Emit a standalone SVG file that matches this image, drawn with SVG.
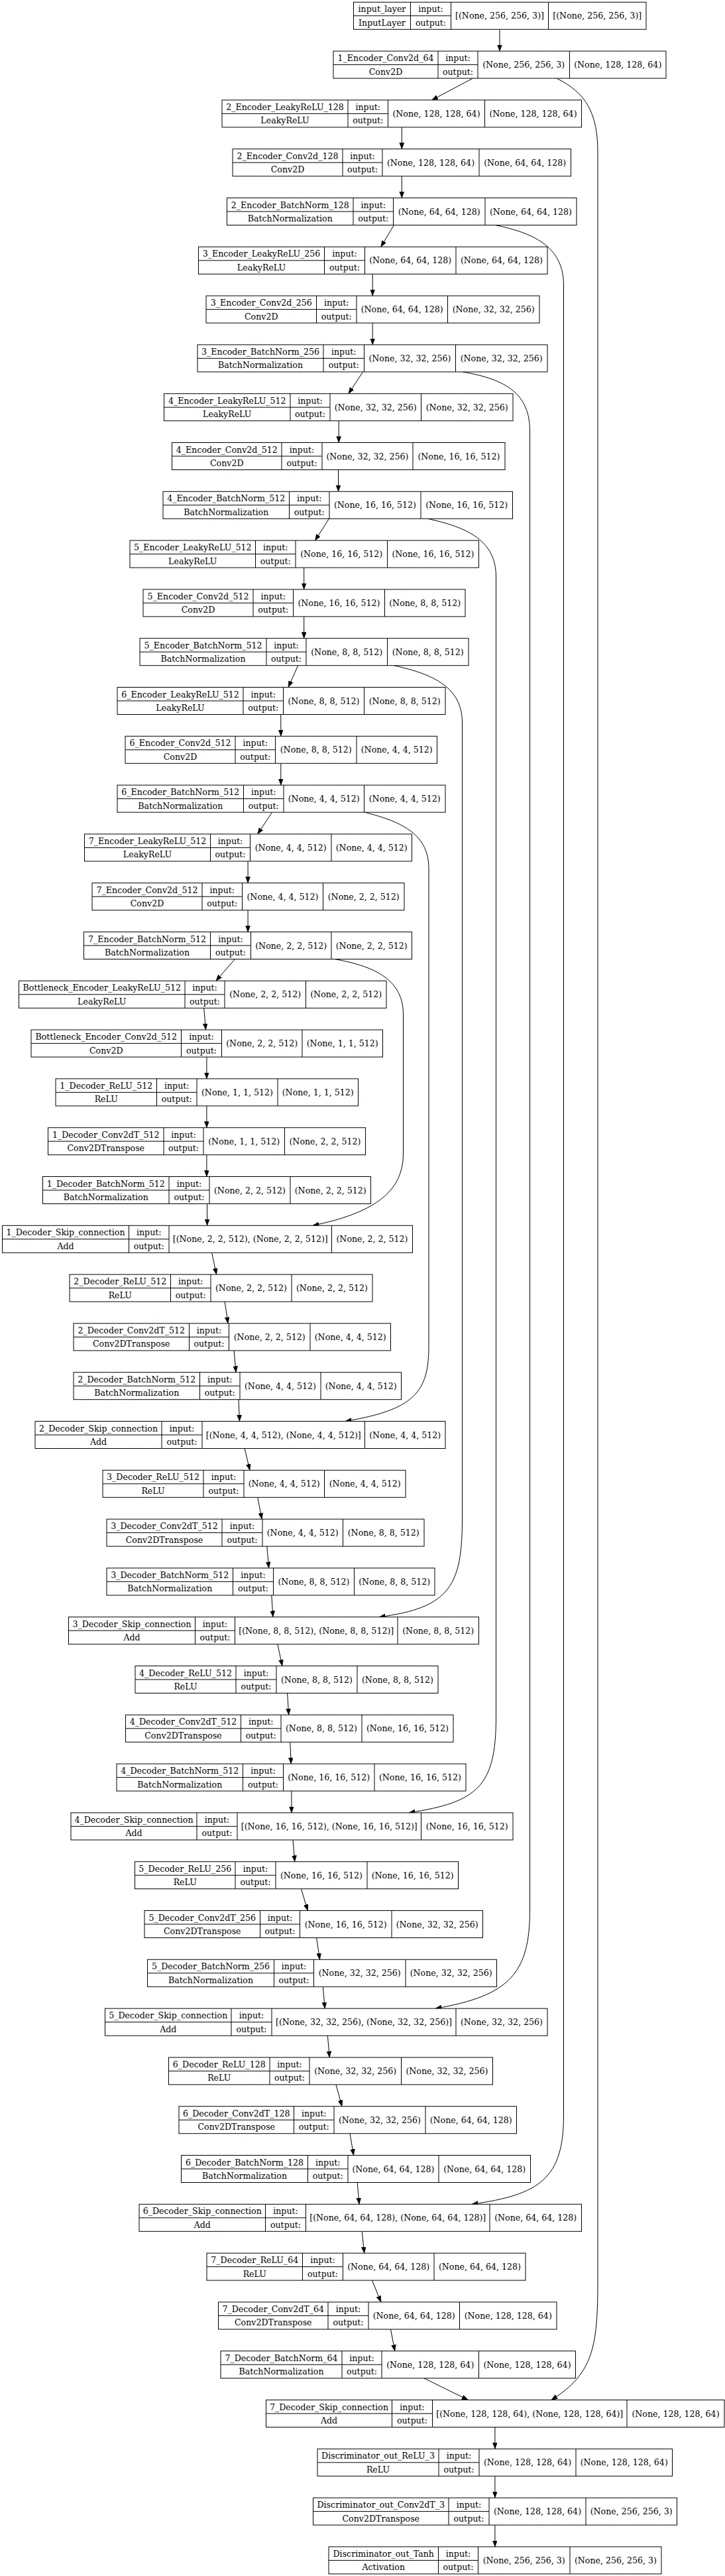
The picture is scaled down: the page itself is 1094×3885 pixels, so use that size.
<svg xmlns="http://www.w3.org/2000/svg" width="1094" height="3885" viewBox="0 0 1094 3885">
<style>
.n rect{fill:#fff;stroke:#000;stroke-width:1}
.n path{stroke:#000;stroke-width:1;fill:none}
.n text{font-family:"DejaVu Serif",serif;font-size:12.6px;text-anchor:middle;fill:#000}
.e path{stroke:#000;stroke-width:1;fill:none;marker-end:url(#ah)}
</style>
<defs>
<marker id="ah" markerUnits="userSpaceOnUse" markerWidth="10" markerHeight="8" refX="9.3" refY="3.5" orient="auto"><path d="M0,0 L9.3,3.5 L0,7 Z" fill="#000" stroke="#000" stroke-width="0.5"/></marker>
</defs>
<rect width="1094" height="3885" fill="#fff"/>
<g id="connectors" class="e">
<path d="M754,44.3L754,77.1"/>
<path d="M713.3,118.1L651.7,150.9"/>
<path d="M606.3,191.9L606.3,224.7"/>
<path d="M606.3,265.7L606.3,298.5"/>
<path d="M594.4,339.5L574.8,372.3"/>
<path d="M562.2,413.3L562.2,446.1"/>
<path d="M562.2,487.1L562.2,519.9"/>
<path d="M547.6,560.9L525.9,593.7"/>
<path d="M511.2,634.7L511.2,667.5"/>
<path d="M510.5,708.5L510.5,741.3"/>
<path d="M496.5,782.3L475.5,815.1"/>
<path d="M458.7,856.1L458.7,888.9"/>
<path d="M458.7,929.9L458.7,962.7"/>
<path d="M449.7,1003.7L435,1036.5"/>
<path d="M423.8,1077.5L423.8,1110.3"/>
<path d="M423.8,1151.3L423.8,1184.1"/>
<path d="M410.5,1225.1L388.8,1257.9"/>
<path d="M374.1,1298.9L374.1,1331.7"/>
<path d="M374.1,1372.7L374.1,1405.5"/>
<path d="M354.5,1446.5L325.9,1479.3"/>
<path d="M307.7,1520.3L310.5,1553.1"/>
<path d="M311.9,1594.1L311.9,1626.9"/>
<path d="M311.9,1667.9L311.9,1700.7"/>
<path d="M311.9,1741.7L311.9,1774.5"/>
<path d="M312.6,1815.5L312.6,1848.3"/>
<path d="M319.6,1889.3L326.6,1922.1"/>
<path d="M339.2,1963.1L344,1995.9"/>
<path d="M353.1,2036.9L356,2069.7"/>
<path d="M360,2110.7L361.5,2143.5"/>
<path d="M369.2,2184.5L376.9,2217.3"/>
<path d="M388.8,2258.3L395.1,2291.1"/>
<path d="M402.8,2332.1L405.6,2364.9"/>
<path d="M409.8,2405.9L411.9,2438.7"/>
<path d="M418.9,2479.7L425.9,2512.5"/>
<path d="M433.6,2553.5L435.7,2586.3"/>
<path d="M437.8,2627.3L439.2,2660.1"/>
<path d="M439.9,2701.1L439.9,2733.9"/>
<path d="M442,2774.9L444.8,2807.7"/>
<path d="M454.5,2848.7L464.3,2881.5"/>
<path d="M477.6,2922.5L482.5,2955.3"/>
<path d="M487.4,2996.3L490.2,3029.1"/>
<path d="M494.4,3070.1L497.2,3102.9"/>
<path d="M507,3143.9L516,3176.7"/>
<path d="M528,3217.7L533.6,3250.5"/>
<path d="M539.2,3291.5L542,3324.3"/>
<path d="M546.2,3365.3L549.7,3398.1"/>
<path d="M561.5,3439.1L574.8,3471.9"/>
<path d="M589.5,3512.9L595.8,3545.7"/>
<path d="M639.9,3586.7L706.3,3619.5"/>
<path d="M746.9,3660.5L746.9,3693.3"/>
<path d="M746.9,3734.3L746.9,3767.1"/>
<path d="M746.9,3808.1L746.9,3840.9"/>
<path d="M840,118.1C884,140 902,170 902,230L902,3440C902,3540 895,3580 832,3619.5"/>
<path d="M747,339.5C810,352 850.5,375 850.5,430L850.5,3190C850.5,3285 815,3310 712,3324.3"/>
<path d="M698,560.9C765,572 799.5,595 799.5,650L799.5,2880C799.5,2975 770,3010 657,3029.1"/>
<path d="M645,782.3C705,795 748.5,815 748.5,870L748.5,2590C748.5,2695 720,2718 617,2733.9"/>
<path d="M594.5,1003.7C655,1017 697.5,1037 697.5,1090L697.5,2290C697.5,2390 680,2425 572,2438.7"/>
<path d="M550.3,1225.1C610,1240 647,1260 647,1310L647,2030C647,2100 625,2126 521,2143.5"/>
<path d="M505,1446.5C570,1458 608.5,1480 608.5,1530L608.5,1740C608.5,1800 560,1830 472,1848.3"/>
</g>
<g id="n0" class="n" transform="translate(0,3.3)"><rect x="533.5" y="0" width="441.5" height="41"/><path d="M619.5,0V41M680.5,0V41M827.5,0V41M533.5,20.5H680.5"/><text x="576.5" y="15">input_layer</text><text x="576.5" y="35.5">InputLayer</text><text x="650" y="15">input:</text><text x="650" y="35.5">output:</text><text x="754" y="25">[(None, 256, 256, 3)]</text><text x="901.25" y="25">[(None, 256, 256, 3)]</text></g>
<g id="n1" class="n" transform="translate(0,77.1)"><rect x="503" y="0" width="502" height="41"/><path d="M661,0V41M721,0V41M859.5,0V41M503,20.5H721"/><text x="582" y="15">1_Encoder_Conv2d_64</text><text x="582" y="35.5">Conv2D</text><text x="691" y="15">input:</text><text x="691" y="35.5">output:</text><text x="790.25" y="25">(None, 256, 256, 3)</text><text x="932.25" y="25">(None, 128, 128, 64)</text></g>
<g id="n2" class="n" transform="translate(0,150.9)"><rect x="335" y="0" width="542.5" height="41"/><path d="M525,0V41M585.5,0V41M731.5,0V41M335,20.5H585.5"/><text x="430" y="15">2_Encoder_LeakyReLU_128</text><text x="430" y="35.5">LeakyReLU</text><text x="555.25" y="15">input:</text><text x="555.25" y="35.5">output:</text><text x="658.5" y="25">(None, 128, 128, 64)</text><text x="804.5" y="25">(None, 128, 128, 64)</text></g>
<g id="n3" class="n" transform="translate(0,224.7)"><rect x="351" y="0" width="510.5" height="41"/><path d="M517,0V41M577,0V41M723,0V41M351,20.5H577"/><text x="434" y="15">2_Encoder_Conv2d_128</text><text x="434" y="35.5">Conv2D</text><text x="547" y="15">input:</text><text x="547" y="35.5">output:</text><text x="650" y="25">(None, 128, 128, 64)</text><text x="792.25" y="25">(None, 64, 64, 128)</text></g>
<g id="n4" class="n" transform="translate(0,298.5)"><rect x="342.5" y="0" width="527.5" height="41"/><path d="M533,0V41M593.5,0V41M732,0V41M342.5,20.5H593.5"/><text x="437.75" y="15">2_Encoder_BatchNorm_128</text><text x="437.75" y="35.5">BatchNormalization</text><text x="563.25" y="15">input:</text><text x="563.25" y="35.5">output:</text><text x="662.75" y="25">(None, 64, 64, 128)</text><text x="801" y="25">(None, 64, 64, 128)</text></g>
<g id="n5" class="n" transform="translate(0,372.3)"><rect x="299.5" y="0" width="526.5" height="41"/><path d="M489.5,0V41M550.5,0V41M688,0V41M299.5,20.5H550.5"/><text x="394.5" y="15">3_Encoder_LeakyReLU_256</text><text x="394.5" y="35.5">LeakyReLU</text><text x="520" y="15">input:</text><text x="520" y="35.5">output:</text><text x="619.25" y="25">(None, 64, 64, 128)</text><text x="757" y="25">(None, 64, 64, 128)</text></g>
<g id="n6" class="n" transform="translate(0,446.1)"><rect x="311" y="0" width="503" height="41"/><path d="M477.5,0V41M538,0V41M675.5,0V41M311,20.5H538"/><text x="394.25" y="15">3_Encoder_Conv2d_256</text><text x="394.25" y="35.5">Conv2D</text><text x="507.75" y="15">input:</text><text x="507.75" y="35.5">output:</text><text x="606.75" y="25">(None, 64, 64, 128)</text><text x="744.75" y="25">(None, 32, 32, 256)</text></g>
<g id="n7" class="n" transform="translate(0,519.9)"><rect x="298" y="0" width="528" height="41"/><path d="M488,0V41M549.5,0V41M687.5,0V41M298,20.5H549.5"/><text x="393" y="15">3_Encoder_BatchNorm_256</text><text x="393" y="35.5">BatchNormalization</text><text x="518.75" y="15">input:</text><text x="518.75" y="35.5">output:</text><text x="618.5" y="25">(None, 32, 32, 256)</text><text x="756.75" y="25">(None, 32, 32, 256)</text></g>
<g id="n8" class="n" transform="translate(0,593.7)"><rect x="247.5" y="0" width="526.5" height="41"/><path d="M438,0V41M498,0V41M635.5,0V41M247.5,20.5H498"/><text x="342.75" y="15">4_Encoder_LeakyReLU_512</text><text x="342.75" y="35.5">LeakyReLU</text><text x="468" y="15">input:</text><text x="468" y="35.5">output:</text><text x="566.75" y="25">(None, 32, 32, 256)</text><text x="704.75" y="25">(None, 32, 32, 256)</text></g>
<g id="n9" class="n" transform="translate(0,667.5)"><rect x="259.5" y="0" width="502.5" height="41"/><path d="M425,0V41M486,0V41M623,0V41M259.5,20.5H486"/><text x="342.25" y="15">4_Encoder_Conv2d_512</text><text x="342.25" y="35.5">Conv2D</text><text x="455.5" y="15">input:</text><text x="455.5" y="35.5">output:</text><text x="554.5" y="25">(None, 32, 32, 256)</text><text x="692.5" y="25">(None, 16, 16, 512)</text></g>
<g id="n10" class="n" transform="translate(0,741.3)"><rect x="246" y="0" width="527.5" height="41"/><path d="M436.5,0V41M497,0V41M635,0V41M246,20.5H497"/><text x="341.25" y="15">4_Encoder_BatchNorm_512</text><text x="341.25" y="35.5">BatchNormalization</text><text x="466.75" y="15">input:</text><text x="466.75" y="35.5">output:</text><text x="566" y="25">(None, 16, 16, 512)</text><text x="704.25" y="25">(None, 16, 16, 512)</text></g>
<g id="n11" class="n" transform="translate(0,815.1)"><rect x="196" y="0" width="526.5" height="41"/><path d="M385.5,0V41M446,0V41M584.5,0V41M196,20.5H446"/><text x="290.75" y="15">5_Encoder_LeakyReLU_512</text><text x="290.75" y="35.5">LeakyReLU</text><text x="415.75" y="15">input:</text><text x="415.75" y="35.5">output:</text><text x="515.25" y="25">(None, 16, 16, 512)</text><text x="653.5" y="25">(None, 16, 16, 512)</text></g>
<g id="n12" class="n" transform="translate(0,888.9)"><rect x="216" y="0" width="486" height="41"/><path d="M382,0V41M442.5,0V41M580.5,0V41M216,20.5H442.5"/><text x="299" y="15">5_Encoder_Conv2d_512</text><text x="299" y="35.5">Conv2D</text><text x="412.25" y="15">input:</text><text x="412.25" y="35.5">output:</text><text x="511.5" y="25">(None, 16, 16, 512)</text><text x="641.25" y="25">(None, 8, 8, 512)</text></g>
<g id="n13" class="n" transform="translate(0,962.7)"><rect x="211" y="0" width="496" height="41"/><path d="M402,0V41M462,0V41M584.5,0V41M211,20.5H462"/><text x="306.5" y="15">5_Encoder_BatchNorm_512</text><text x="306.5" y="35.5">BatchNormalization</text><text x="432" y="15">input:</text><text x="432" y="35.5">output:</text><text x="523.25" y="25">(None, 8, 8, 512)</text><text x="645.75" y="25">(None, 8, 8, 512)</text></g>
<g id="n14" class="n" transform="translate(0,1036.5)"><rect x="177" y="0" width="495" height="41"/><path d="M367,0V41M427.5,0V41M549.5,0V41M177,20.5H427.5"/><text x="272" y="15">6_Encoder_LeakyReLU_512</text><text x="272" y="35.5">LeakyReLU</text><text x="397.25" y="15">input:</text><text x="397.25" y="35.5">output:</text><text x="488.5" y="25">(None, 8, 8, 512)</text><text x="610.75" y="25">(None, 8, 8, 512)</text></g>
<g id="n15" class="n" transform="translate(0,1110.3)"><rect x="189" y="0" width="470.5" height="41"/><path d="M355,0V41M415.5,0V41M538,0V41M189,20.5H415.5"/><text x="272" y="15">6_Encoder_Conv2d_512</text><text x="272" y="35.5">Conv2D</text><text x="385.25" y="15">input:</text><text x="385.25" y="35.5">output:</text><text x="476.75" y="25">(None, 8, 8, 512)</text><text x="598.75" y="25">(None, 4, 4, 512)</text></g>
<g id="n16" class="n" transform="translate(0,1184.1)"><rect x="177" y="0" width="495" height="41"/><path d="M367.5,0V41M428,0V41M549.5,0V41M177,20.5H428"/><text x="272.25" y="15">6_Encoder_BatchNorm_512</text><text x="272.25" y="35.5">BatchNormalization</text><text x="397.75" y="15">input:</text><text x="397.75" y="35.5">output:</text><text x="488.75" y="25">(None, 4, 4, 512)</text><text x="610.75" y="25">(None, 4, 4, 512)</text></g>
<g id="n17" class="n" transform="translate(0,1257.9)"><rect x="127.5" y="0" width="494" height="41"/><path d="M317.5,0V41M377.5,0V41M500,0V41M127.5,20.5H377.5"/><text x="222.5" y="15">7_Encoder_LeakyReLU_512</text><text x="222.5" y="35.5">LeakyReLU</text><text x="347.5" y="15">input:</text><text x="347.5" y="35.5">output:</text><text x="438.75" y="25">(None, 4, 4, 512)</text><text x="560.75" y="25">(None, 4, 4, 512)</text></g>
<g id="n18" class="n" transform="translate(0,1331.7)"><rect x="139" y="0" width="471" height="41"/><path d="M305,0V41M365.5,0V41M487.5,0V41M139,20.5H365.5"/><text x="222" y="15">7_Encoder_Conv2d_512</text><text x="222" y="35.5">Conv2D</text><text x="335.25" y="15">input:</text><text x="335.25" y="35.5">output:</text><text x="426.5" y="25">(None, 4, 4, 512)</text><text x="548.75" y="25">(None, 2, 2, 512)</text></g>
<g id="n19" class="n" transform="translate(0,1405.5)"><rect x="126.5" y="0" width="495" height="41"/><path d="M317.5,0V41M378.5,0V41M500,0V41M126.5,20.5H378.5"/><text x="222" y="15">7_Encoder_BatchNorm_512</text><text x="222" y="35.5">BatchNormalization</text><text x="348" y="15">input:</text><text x="348" y="35.5">output:</text><text x="439.25" y="25">(None, 2, 2, 512)</text><text x="560.75" y="25">(None, 2, 2, 512)</text></g>
<g id="n20" class="n" transform="translate(0,1479.3)"><rect x="28.5" y="0" width="554.5" height="41"/><path d="M279,0V41M339,0V41M461.5,0V41M28.5,20.5H339"/><text x="153.75" y="15">Bottleneck_Encoder_LeakyReLU_512</text><text x="153.75" y="35.5">LeakyReLU</text><text x="309" y="15">input:</text><text x="309" y="35.5">output:</text><text x="400.25" y="25">(None, 2, 2, 512)</text><text x="522.25" y="25">(None, 2, 2, 512)</text></g>
<g id="n21" class="n" transform="translate(0,1553.1)"><rect x="47" y="0" width="530.5" height="41"/><path d="M273.5,0V41M334.5,0V41M456,0V41M47,20.5H334.5"/><text x="160.25" y="15">Bottleneck_Encoder_Conv2d_512</text><text x="160.25" y="35.5">Conv2D</text><text x="304" y="15">input:</text><text x="304" y="35.5">output:</text><text x="395.25" y="25">(None, 2, 2, 512)</text><text x="516.75" y="25">(None, 1, 1, 512)</text></g>
<g id="n22" class="n" transform="translate(0,1626.9)"><rect x="84" y="0" width="456.5" height="41"/><path d="M236.5,0V41M297,0V41M419,0V41M84,20.5H297"/><text x="160.25" y="15">1_Decoder_ReLU_512</text><text x="160.25" y="35.5">ReLU</text><text x="266.75" y="15">input:</text><text x="266.75" y="35.5">output:</text><text x="358" y="25">(None, 1, 1, 512)</text><text x="479.75" y="25">(None, 1, 1, 512)</text></g>
<g id="n23" class="n" transform="translate(0,1700.7)"><rect x="72.5" y="0" width="479" height="41"/><path d="M247,0V41M307,0V41M429.5,0V41M72.5,20.5H307"/><text x="159.75" y="15">1_Decoder_Conv2dT_512</text><text x="159.75" y="35.5">Conv2DTranspose</text><text x="277" y="15">input:</text><text x="277" y="35.5">output:</text><text x="368.25" y="25">(None, 1, 1, 512)</text><text x="490.5" y="25">(None, 2, 2, 512)</text></g>
<g id="n24" class="n" transform="translate(0,1774.5)"><rect x="64.5" y="0" width="495" height="41"/><path d="M255,0V41M316,0V41M438,0V41M64.5,20.5H316"/><text x="159.75" y="15">1_Decoder_BatchNorm_512</text><text x="159.75" y="35.5">BatchNormalization</text><text x="285.5" y="15">input:</text><text x="285.5" y="35.5">output:</text><text x="377" y="25">(None, 2, 2, 512)</text><text x="498.75" y="25">(None, 2, 2, 512)</text></g>
<g id="n25" class="n" transform="translate(0,1848.3)"><rect x="3.5" y="0" width="619" height="41"/><path d="M194.5,0V41M255,0V41M500.5,0V41M3.5,20.5H255"/><text x="99" y="15">1_Decoder_Skip_connection</text><text x="99" y="35.5">Add</text><text x="224.75" y="15">input:</text><text x="224.75" y="35.5">output:</text><text x="377.75" y="25">[(None, 2, 2, 512), (None, 2, 2, 512)]</text><text x="561.5" y="25">(None, 2, 2, 512)</text></g>
<g id="n26" class="n" transform="translate(0,1922.1)"><rect x="105" y="0" width="457" height="41"/><path d="M257.5,0V41M318,0V41M440,0V41M105,20.5H318"/><text x="181.25" y="15">2_Decoder_ReLU_512</text><text x="181.25" y="35.5">ReLU</text><text x="287.75" y="15">input:</text><text x="287.75" y="35.5">output:</text><text x="379" y="25">(None, 2, 2, 512)</text><text x="501" y="25">(None, 2, 2, 512)</text></g>
<g id="n27" class="n" transform="translate(0,1995.9)"><rect x="111" y="0" width="478.5" height="41"/><path d="M285.5,0V41M345.5,0V41M468,0V41M111,20.5H345.5"/><text x="198.25" y="15">2_Decoder_Conv2dT_512</text><text x="198.25" y="35.5">Conv2DTranspose</text><text x="315.5" y="15">input:</text><text x="315.5" y="35.5">output:</text><text x="406.75" y="25">(None, 2, 2, 512)</text><text x="528.75" y="25">(None, 4, 4, 512)</text></g>
<g id="n28" class="n" transform="translate(0,2069.7)"><rect x="111" y="0" width="494.5" height="41"/><path d="M301.5,0V41M362,0V41M484,0V41M111,20.5H362"/><text x="206.25" y="15">2_Decoder_BatchNorm_512</text><text x="206.25" y="35.5">BatchNormalization</text><text x="331.75" y="15">input:</text><text x="331.75" y="35.5">output:</text><text x="423" y="25">(None, 4, 4, 512)</text><text x="544.75" y="25">(None, 4, 4, 512)</text></g>
<g id="n29" class="n" transform="translate(0,2143.5)"><rect x="53" y="0" width="619" height="41"/><path d="M244,0V41M305,0V41M550.5,0V41M53,20.5H305"/><text x="148.5" y="15">2_Decoder_Skip_connection</text><text x="148.5" y="35.5">Add</text><text x="274.5" y="15">input:</text><text x="274.5" y="35.5">output:</text><text x="427.75" y="25">[(None, 4, 4, 512), (None, 4, 4, 512)]</text><text x="611.25" y="25">(None, 4, 4, 512)</text></g>
<g id="n30" class="n" transform="translate(0,2217.3)"><rect x="155" y="0" width="457" height="41"/><path d="M307,0V41M368,0V41M489.5,0V41M155,20.5H368"/><text x="231" y="15">3_Decoder_ReLU_512</text><text x="231" y="35.5">ReLU</text><text x="337.5" y="15">input:</text><text x="337.5" y="35.5">output:</text><text x="428.75" y="25">(None, 4, 4, 512)</text><text x="550.75" y="25">(None, 4, 4, 512)</text></g>
<g id="n31" class="n" transform="translate(0,2291.1)"><rect x="161" y="0" width="479" height="41"/><path d="M335,0V41M396,0V41M517.5,0V41M161,20.5H396"/><text x="248" y="15">3_Decoder_Conv2dT_512</text><text x="248" y="35.5">Conv2DTranspose</text><text x="365.5" y="15">input:</text><text x="365.5" y="35.5">output:</text><text x="456.75" y="25">(None, 4, 4, 512)</text><text x="578.75" y="25">(None, 8, 8, 512)</text></g>
<g id="n32" class="n" transform="translate(0,2364.9)"><rect x="161" y="0" width="495" height="41"/><path d="M351.5,0V41M412.5,0V41M534.5,0V41M161,20.5H412.5"/><text x="256.25" y="15">3_Decoder_BatchNorm_512</text><text x="256.25" y="35.5">BatchNormalization</text><text x="382" y="15">input:</text><text x="382" y="35.5">output:</text><text x="473.5" y="25">(None, 8, 8, 512)</text><text x="595.25" y="25">(None, 8, 8, 512)</text></g>
<g id="n33" class="n" transform="translate(0,2438.7)"><rect x="103.5" y="0" width="619" height="41"/><path d="M294.5,0V41M354.5,0V41M600,0V41M103.5,20.5H354.5"/><text x="199" y="15">3_Decoder_Skip_connection</text><text x="199" y="35.5">Add</text><text x="324.5" y="15">input:</text><text x="324.5" y="35.5">output:</text><text x="477.25" y="25">[(None, 8, 8, 512), (None, 8, 8, 512)]</text><text x="661.25" y="25">(None, 8, 8, 512)</text></g>
<g id="n34" class="n" transform="translate(0,2512.5)"><rect x="204" y="0" width="457" height="41"/><path d="M356,0V41M417,0V41M539,0V41M204,20.5H417"/><text x="280" y="15">4_Decoder_ReLU_512</text><text x="280" y="35.5">ReLU</text><text x="386.5" y="15">input:</text><text x="386.5" y="35.5">output:</text><text x="478" y="25">(None, 8, 8, 512)</text><text x="600" y="25">(None, 8, 8, 512)</text></g>
<g id="n35" class="n" transform="translate(0,2586.3)"><rect x="189.5" y="0" width="494.5" height="41"/><path d="M363.5,0V41M424,0V41M546,0V41M189.5,20.5H424"/><text x="276.5" y="15">4_Decoder_Conv2dT_512</text><text x="276.5" y="35.5">Conv2DTranspose</text><text x="393.75" y="15">input:</text><text x="393.75" y="35.5">output:</text><text x="485" y="25">(None, 8, 8, 512)</text><text x="615" y="25">(None, 16, 16, 512)</text></g>
<g id="n36" class="n" transform="translate(0,2660.1)"><rect x="176" y="0" width="527" height="41"/><path d="M366.5,0V41M427.5,0V41M565,0V41M176,20.5H427.5"/><text x="271.25" y="15">4_Decoder_BatchNorm_512</text><text x="271.25" y="35.5">BatchNormalization</text><text x="397" y="15">input:</text><text x="397" y="35.5">output:</text><text x="496.25" y="25">(None, 16, 16, 512)</text><text x="634" y="25">(None, 16, 16, 512)</text></g>
<g id="n37" class="n" transform="translate(0,2733.9)"><rect x="107" y="0" width="667" height="41"/><path d="M297,0V41M358,0V41M635.5,0V41M107,20.5H358"/><text x="202" y="15">4_Decoder_Skip_connection</text><text x="202" y="35.5">Add</text><text x="327.5" y="15">input:</text><text x="327.5" y="35.5">output:</text><text x="496.75" y="25">[(None, 16, 16, 512), (None, 16, 16, 512)]</text><text x="704.75" y="25">(None, 16, 16, 512)</text></g>
<g id="n38" class="n" transform="translate(0,2807.7)"><rect x="203.5" y="0" width="488" height="41"/><path d="M355,0V41M416,0V41M554,0V41M203.5,20.5H416"/><text x="279.25" y="15">5_Decoder_ReLU_256</text><text x="279.25" y="35.5">ReLU</text><text x="385.5" y="15">input:</text><text x="385.5" y="35.5">output:</text><text x="485" y="25">(None, 16, 16, 512)</text><text x="622.75" y="25">(None, 16, 16, 512)</text></g>
<g id="n39" class="n" transform="translate(0,2881.5)"><rect x="218" y="0" width="510.5" height="41"/><path d="M392.5,0V41M452.5,0V41M591,0V41M218,20.5H452.5"/><text x="305.25" y="15">5_Decoder_Conv2dT_256</text><text x="305.25" y="35.5">Conv2DTranspose</text><text x="422.5" y="15">input:</text><text x="422.5" y="35.5">output:</text><text x="521.75" y="25">(None, 16, 16, 512)</text><text x="659.75" y="25">(None, 32, 32, 256)</text></g>
<g id="n40" class="n" transform="translate(0,2955.3)"><rect x="222.5" y="0" width="527" height="41"/><path d="M413.5,0V41M473.5,0V41M612,0V41M222.5,20.5H473.5"/><text x="318" y="15">5_Decoder_BatchNorm_256</text><text x="318" y="35.5">BatchNormalization</text><text x="443.5" y="15">input:</text><text x="443.5" y="35.5">output:</text><text x="542.75" y="25">(None, 32, 32, 256)</text><text x="680.75" y="25">(None, 32, 32, 256)</text></g>
<g id="n41" class="n" transform="translate(0,3029.1)"><rect x="158.5" y="0" width="667.5" height="41"/><path d="M349,0V41M410,0V41M688,0V41M158.5,20.5H410"/><text x="253.75" y="15">5_Decoder_Skip_connection</text><text x="253.75" y="35.5">Add</text><text x="379.5" y="15">input:</text><text x="379.5" y="35.5">output:</text><text x="549" y="25">[(None, 32, 32, 256), (None, 32, 32, 256)]</text><text x="757" y="25">(None, 32, 32, 256)</text></g>
<g id="n42" class="n" transform="translate(0,3102.9)"><rect x="254.5" y="0" width="489" height="41"/><path d="M407,0V41M467,0V41M605.5,0V41M254.5,20.5H467"/><text x="330.75" y="15">6_Decoder_ReLU_128</text><text x="330.75" y="35.5">ReLU</text><text x="437" y="15">input:</text><text x="437" y="35.5">output:</text><text x="536.25" y="25">(None, 32, 32, 256)</text><text x="674.5" y="25">(None, 32, 32, 256)</text></g>
<g id="n43" class="n" transform="translate(0,3176.7)"><rect x="270" y="0" width="509.5" height="41"/><path d="M443.5,0V41M504,0V41M642,0V41M270,20.5H504"/><text x="356.75" y="15">6_Decoder_Conv2dT_128</text><text x="356.75" y="35.5">Conv2DTranspose</text><text x="473.75" y="15">input:</text><text x="473.75" y="35.5">output:</text><text x="573" y="25">(None, 32, 32, 256)</text><text x="710.75" y="25">(None, 64, 64, 128)</text></g>
<g id="n44" class="n" transform="translate(0,3250.5)"><rect x="273.5" y="0" width="527" height="41"/><path d="M464.5,0V41M525,0V41M662,0V41M273.5,20.5H525"/><text x="369" y="15">6_Decoder_BatchNorm_128</text><text x="369" y="35.5">BatchNormalization</text><text x="494.75" y="15">input:</text><text x="494.75" y="35.5">output:</text><text x="593.5" y="25">(None, 64, 64, 128)</text><text x="731.25" y="25">(None, 64, 64, 128)</text></g>
<g id="n45" class="n" transform="translate(0,3324.3)"><rect x="210" y="0" width="667.5" height="41"/><path d="M400.5,0V41M461.5,0V41M739,0V41M210,20.5H461.5"/><text x="305.25" y="15">6_Decoder_Skip_connection</text><text x="305.25" y="35.5">Add</text><text x="431" y="15">input:</text><text x="431" y="35.5">output:</text><text x="600.25" y="25">[(None, 64, 64, 128), (None, 64, 64, 128)]</text><text x="808.25" y="25">(None, 64, 64, 128)</text></g>
<g id="n46" class="n" transform="translate(0,3398.1)"><rect x="312" y="0" width="481" height="41"/><path d="M456.5,0V41M517.5,0V41M655,0V41M312,20.5H517.5"/><text x="384.25" y="15">7_Decoder_ReLU_64</text><text x="384.25" y="35.5">ReLU</text><text x="487" y="15">input:</text><text x="487" y="35.5">output:</text><text x="586.25" y="25">(None, 64, 64, 128)</text><text x="724" y="25">(None, 64, 64, 128)</text></g>
<g id="n47" class="n" transform="translate(0,3471.9)"><rect x="329.5" y="0" width="510.5" height="41"/><path d="M495,0V41M556,0V41M693.5,0V41M329.5,20.5H556"/><text x="412.25" y="15">7_Decoder_Conv2dT_64</text><text x="412.25" y="35.5">Conv2DTranspose</text><text x="525.5" y="15">input:</text><text x="525.5" y="35.5">output:</text><text x="624.75" y="25">(None, 64, 64, 128)</text><text x="766.75" y="25">(None, 128, 128, 64)</text></g>
<g id="n48" class="n" transform="translate(0,3545.7)"><rect x="333" y="0" width="535.5" height="41"/><path d="M516,0V41M576,0V41M722.5,0V41M333,20.5H576"/><text x="424.5" y="15">7_Decoder_BatchNorm_64</text><text x="424.5" y="35.5">BatchNormalization</text><text x="546" y="15">input:</text><text x="546" y="35.5">output:</text><text x="649.25" y="25">(None, 128, 128, 64)</text><text x="795.5" y="25">(None, 128, 128, 64)</text></g>
<g id="n49" class="n" transform="translate(0,3619.5)"><rect x="401.5" y="0" width="691.5" height="41"/><path d="M591.5,0V41M652.5,0V41M946,0V41M401.5,20.5H652.5"/><text x="496.5" y="15">7_Decoder_Skip_connection</text><text x="496.5" y="35.5">Add</text><text x="622" y="15">input:</text><text x="622" y="35.5">output:</text><text x="799.25" y="25">[(None, 128, 128, 64), (None, 128, 128, 64)]</text><text x="1019.5" y="25">(None, 128, 128, 64)</text></g>
<g id="n50" class="n" transform="translate(0,3693.3)"><rect x="479" y="0" width="535.5" height="41"/><path d="M662,0V41M723,0V41M869,0V41M479,20.5H723"/><text x="570.5" y="15">Discriminator_out_ReLU_3</text><text x="570.5" y="35.5">ReLU</text><text x="692.5" y="15">input:</text><text x="692.5" y="35.5">output:</text><text x="796" y="25">(None, 128, 128, 64)</text><text x="941.75" y="25">(None, 128, 128, 64)</text></g>
<g id="n51" class="n" transform="translate(0,3767.1)"><rect x="472.5" y="0" width="549" height="41"/><path d="M677,0V41M738,0V41M884,0V41M472.5,20.5H738"/><text x="574.75" y="15">Discriminator_out_Conv2dT_3</text><text x="574.75" y="35.5">Conv2DTranspose</text><text x="707.5" y="15">input:</text><text x="707.5" y="35.5">output:</text><text x="811" y="25">(None, 128, 128, 64)</text><text x="952.75" y="25">(None, 256, 256, 3)</text></g>
<g id="n52" class="n" transform="translate(0,3840.9)"><rect x="496" y="0" width="502" height="41"/><path d="M661.5,0V41M721.5,0V41M860,0V41M496,20.5H721.5"/><text x="578.75" y="15">Discriminator_out_Tanh</text><text x="578.75" y="35.5">Activation</text><text x="691.5" y="15">input:</text><text x="691.5" y="35.5">output:</text><text x="790.75" y="25">(None, 256, 256, 3)</text><text x="929" y="25">(None, 256, 256, 3)</text></g>
</svg>
